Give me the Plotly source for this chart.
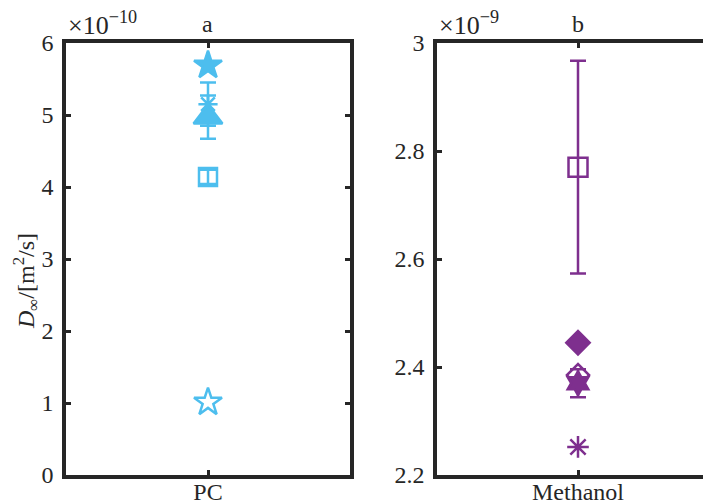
import plotly.graph_objects as go

# ---- data ----
pc_labels = ["PC"]
meth_labels = ["Methanol"]

# PC panel (units 1e-10 m^2/s)
pc_series = ["square_open", "star_open", "asterisk", "triangle", "star_filled"]
pc_values = [4.14, 1.01, 5.15, 4.97, 5.69]
pc_errors = [0.10, 0.0, 0.30, 0.30, 0.0]

# Methanol panel (units 1e-9 m^2/s)
meth_series = ["square_open", "asterisk", "diamond_open", "hexagram", "diamond_filled"]
meth_values = [2.770, 2.252, 2.385, 2.370, 2.445]
meth_errors = [0.197, 0.0, 0.0, 0.026, 0.0]

pc_ticks = [0, 1, 2, 3, 4, 5, 6]
meth_ticks = [2.2, 2.4, 2.6, 2.8, 3.0]
meth_ticktext = ["2.2", "2.4", "2.6", "2.8", "3"]

BLUE = "#4DBEEE"
PURPLE = "#7E2F8E"
AX = "#262626"
FONT = "Liberation Serif"
FS = 24

OFF = 8  # page body margin
W, H = 711 - OFF, 504 - OFF


def px_x(p):
    return (p - OFF) / W


def px_y(p):
    return 1 - (p - OFF) / H


sym_pc = {"square_open": ("square-open", 18), "star_open": ("star-open", 21),
          "asterisk": ("asterisk-open", 16), "triangle": ("triangle-up", 25),
          "star_filled": ("star", 21)}
sym_me = {"square_open": ("square-open", 19), "asterisk": ("asterisk-open", 18),
          "diamond_open": ("diamond-open", 17), "hexagram": ("hexagram", 18),
          "diamond_filled": ("diamond", 18)}

fig = go.Figure()

for name, v, e in zip(pc_series, pc_values, pc_errors):
    s, sz = sym_pc[name]
    fig.add_trace(go.Scatter(
        x=[0], y=[v], mode="markers", xaxis="x", yaxis="y",
        marker=dict(symbol=s, size=sz, color=BLUE, line=dict(color=BLUE, width=2.5)),
        error_y=dict(type="data", array=[e], visible=e > 0, color=BLUE, thickness=2.5, width=8),
        showlegend=False))

for name, v, e in zip(meth_series, meth_values, meth_errors):
    s, sz = sym_me[name]
    fig.add_trace(go.Scatter(
        x=[0], y=[v], mode="markers", xaxis="x2", yaxis="y2",
        marker=dict(symbol=s, size=sz, color=PURPLE, line=dict(color=PURPLE, width=2.5)),
        error_y=dict(type="data", array=[e], visible=e > 0, color=PURPLE, thickness=2.5, width=8),
        showlegend=False))

ytop = px_y(43)
ybot = px_y(475)

common_ax = dict(showline=True, linecolor=AX, linewidth=3.5, mirror="ticks",
                 ticks="inside", ticklen=5, tickwidth=3, tickcolor=AX,
                 showgrid=False, zeroline=False, automargin=False,
                 tickfont=dict(family=FONT, size=FS, color=AX))

x2_right = 0.5 * (711 - 437) / (578 - 437) - 0.5

ann_font = dict(family=FONT, size=FS, color=AX)
exp_font = dict(family=FONT, size=26, color=AX)

fig.update_layout(
    width=W, height=H, margin=dict(l=0, r=0, t=0, b=0, pad=0),
    plot_bgcolor="white", paper_bgcolor="white",
    xaxis=dict(domain=[px_x(66), px_x(350)], range=[-0.5, 0.5], anchor="y",
               tickvals=[0], ticktext=pc_labels, ticklabelstandoff=-8, **common_ax),
    yaxis=dict(domain=[ybot, ytop], range=[0, 6], anchor="x",
               tickvals=pc_ticks, ticklabelstandoff=4, **common_ax),
    xaxis2=dict(domain=[px_x(437), 1.0], range=[-0.5, x2_right], anchor="y2",
                tickvals=[0], ticktext=meth_labels, ticklabelstandoff=-8, **common_ax),
    yaxis2=dict(domain=[ybot, ytop], range=[2.2, 3.0], anchor="x2",
                tickvals=meth_ticks, ticktext=meth_ticktext, ticklabelstandoff=4,
                **common_ax),
    annotations=[
        dict(text="<i>D</i><sub>∞</sub>/[m<sup>2</sup>/s]", x=px_x(26), y=px_y(281),
             xref="paper", yref="paper", xanchor="center", yanchor="middle",
             textangle=-90, showarrow=False, font=ann_font),
        dict(text="×10<sup>−10</sup>", x=px_x(66), y=px_y(23), xref="paper", yref="paper",
             xanchor="left", yanchor="middle", showarrow=False, font=exp_font),
        dict(text="×10<sup>−9</sup>", x=px_x(437), y=px_y(23), xref="paper", yref="paper",
             xanchor="left", yanchor="middle", showarrow=False, font=exp_font),
        dict(text="a", x=px_x(207), y=px_y(24), xref="paper", yref="paper",
             xanchor="center", yanchor="middle", showarrow=False, font=ann_font),
        dict(text="b", x=px_x(578), y=px_y(24), xref="paper", yref="paper",
             xanchor="center", yanchor="middle", showarrow=False, font=ann_font),
    ],
)

fig.write_html("out.html")
